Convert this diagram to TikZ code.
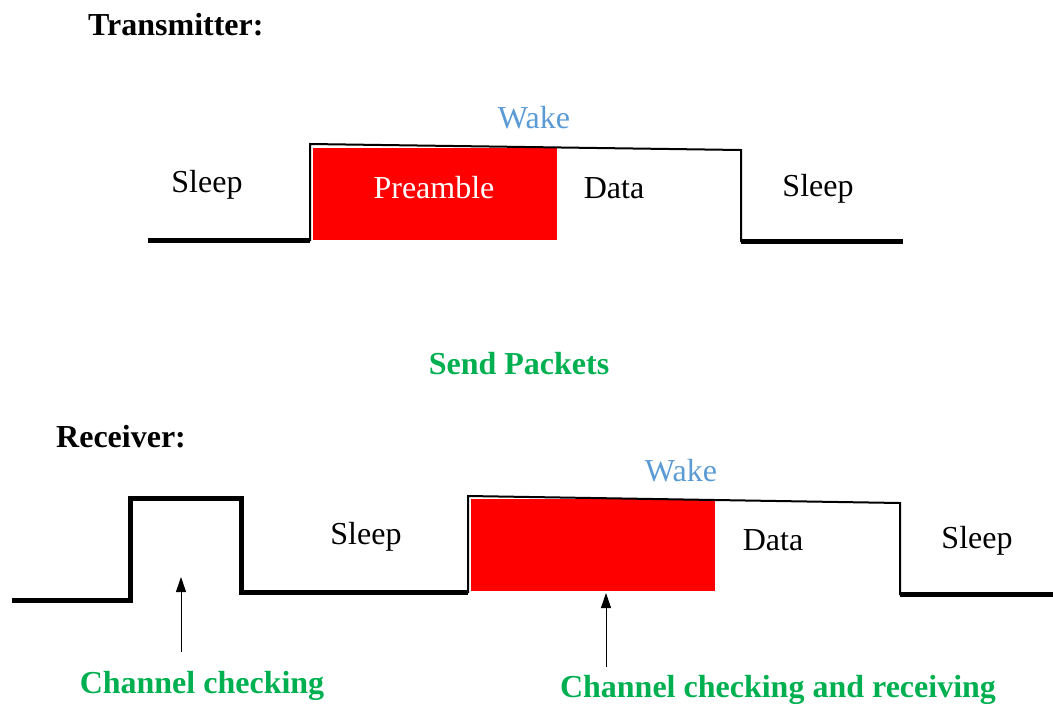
\documentclass[tikz,border=0pt]{standalone}
\usepackage{fontspec}
\setmainfont{Liberation Serif}
\usepackage{tikz}
\usetikzlibrary{positioning,arrows.meta}

\definecolor{wakeblue}{HTML}{5B9BD5}
\definecolor{labelgreen}{HTML}{00B050}

\begin{document}
\begin{tikzpicture}[
  x=1pt, y=-1pt,
  >={Triangle[length=15pt,width=10pt]},
  lbl/.style={font=\fontsize{32}{34}\selectfont, inner sep=0pt},
  wake/.style={lbl, text=wakeblue},
  title/.style={font=\bfseries\fontsize{32}{34}\selectfont, inner sep=0pt, anchor=west},
  note/.style={font=\bfseries\fontsize{32}{34}\selectfont, inner sep=0pt, text=labelgreen},
  low/.style={line width=5pt},
  high/.style={line width=2pt},
  burst/.style={fill=red, draw=none}
]
  \useasboundingbox (0,0) rectangle (1053,705);

  % Transmitter
  \node[title] (tx) at (88,25) {Transmitter:};
  \fill[burst] (313,148) rectangle (557,240);
  \draw[low] (148,240) -- (310,240);
  \draw[high] (310,241) -- (310,144) -- (741,150) -- (741,242);
  \draw[low] (741,241) -- (903,241);
  \node[wake] (txwake) at (534,118) {Wake};
  \node[lbl] (txsleepa) at (207,185) {Sleep};
  \node[lbl, text=white] (txpre) at (434,188) {Preamble};
  \node[lbl] (txdata) at (614,188) {Data};
  \node[lbl] (txsleepb) at (818,189) {Sleep};

  \node[note] (send) at (519,364) {Send Packets};

  % Receiver
  \node[title] (rx) at (56,437) {Receiver:};
  \fill[burst] (471,499) rectangle (715,591);
  \draw[low] (12,600) -- (130,600) -- (130,498) -- (241,498) -- (241,592) -- (468,592);
  \draw[high] (468,593) -- (468,496) -- (900,503) -- (900,595);
  \draw[low] (900,594) -- (1053,594);
  \node[wake] (rxwake) at (681,471) {Wake};
  \node[lbl] (rxsleepa) at (366,537) {Sleep};
  \node[lbl] (rxdata) at (773,540) {Data};
  \node[lbl] (rxsleepb) at (977,541) {Sleep};

  \node[note] (check) at (202,686) {Channel checking};
  \node[note] (checkrx) at (778,690) {Channel checking and receiving};
  \coordinate (checktail) at (181,652);
  \coordinate (checkhead) at (181,577);
  \coordinate (rxtail) at (606,667);
  \coordinate (rxhead) at (606,593);
  \draw[->, line width=1pt] (checktail) -- (checkhead);
  \draw[->, line width=1pt] (rxtail) -- (rxhead);
\end{tikzpicture}
\end{document}
